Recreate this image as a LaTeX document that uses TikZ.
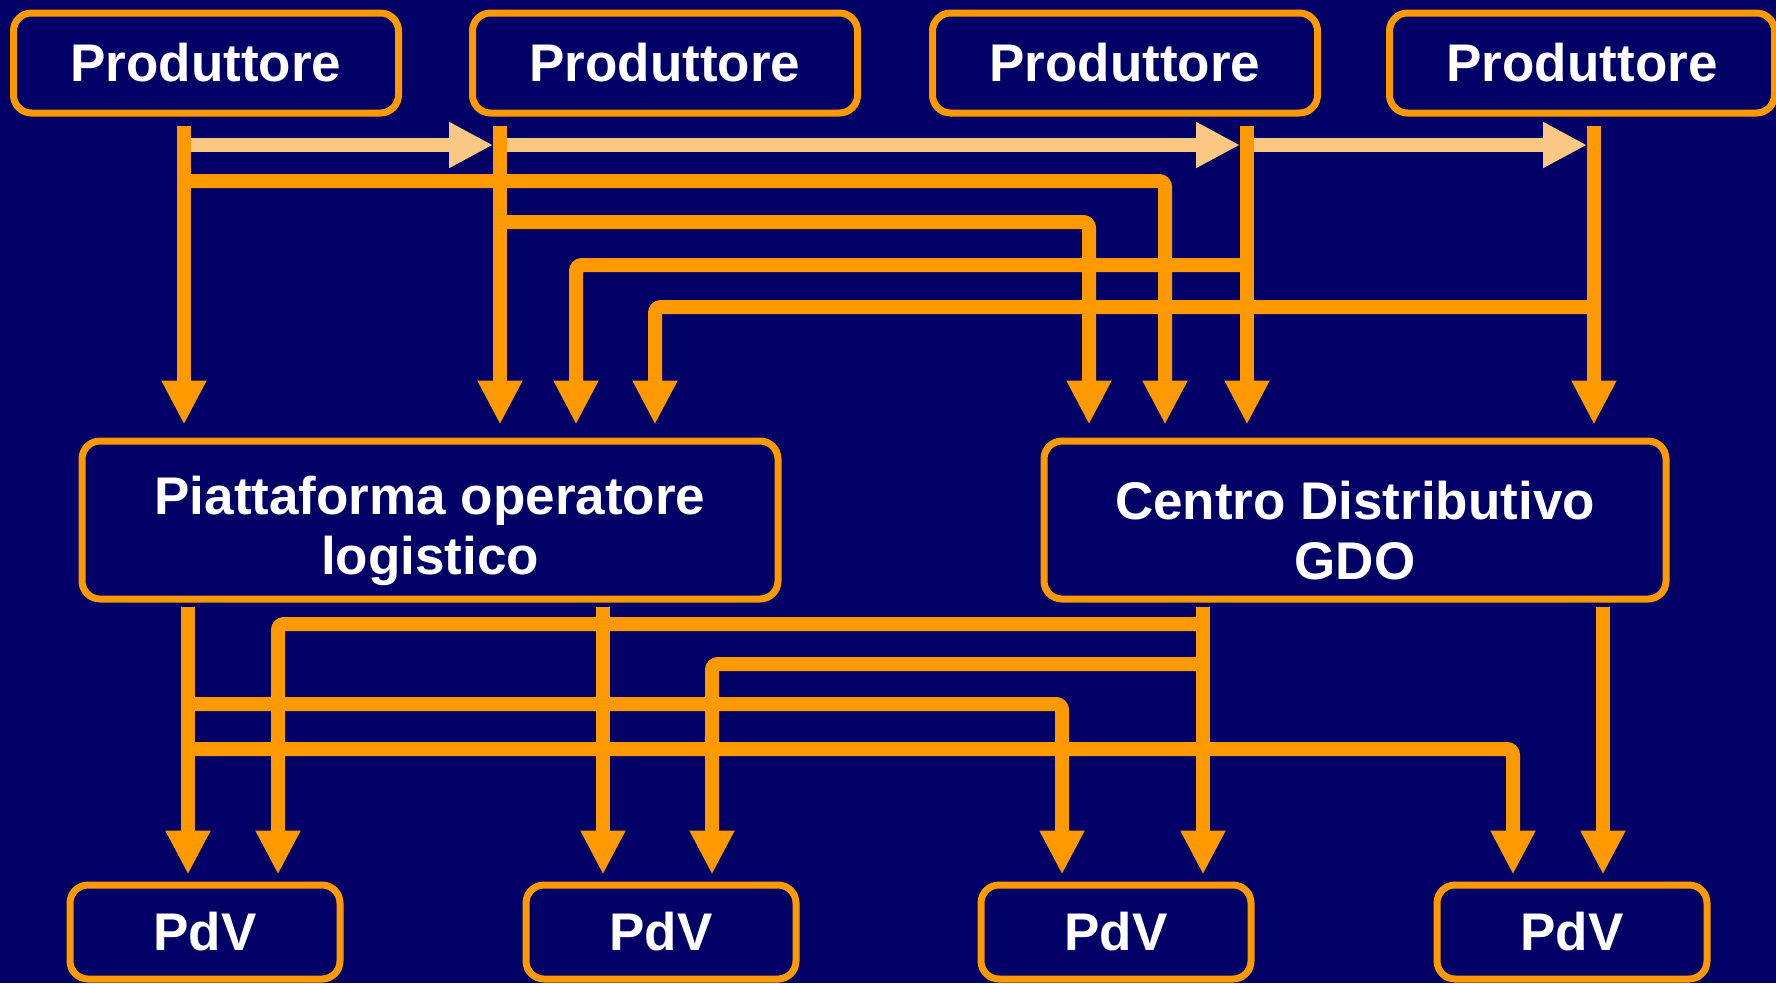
\documentclass[tikz,border=0pt]{standalone}
\usepackage{fontspec}
\setmainfont{Liberation Sans}
\usetikzlibrary{arrows.meta}
\definecolor{navy}{RGB}{0,0,102}
\definecolor{orng}{RGB}{255,153,0}
\definecolor{peach}{RGB}{250,200,130}
\newcommand{\hubstrut}{\rule{0pt}{60pt}}
\tikzset{
	box/.style={draw=orng, line width=7pt, rounded corners=18pt, fill=navy, text=white, inner sep=0pt, align=center, font=\bfseries\fontsize{53}{60}\selectfont},
	prod/.style={box, minimum width=385pt, minimum height=100pt},
	hub/.style={box, minimum height=158pt},
	shop/.style={box, minimum width=270pt, minimum height=94pt},
	flow/.style={draw=orng, line width=14pt, rounded corners=6pt, -{Triangle[width=42pt,length=44pt]}},
	push/.style={draw=peach, line width=14pt, -{Triangle[width=43pt,length=44pt]}, shorten <=7pt, shorten >=7pt}
}
\begin{document}
\begin{tikzpicture}[x=1pt, y=-1pt]
			%%%%% START %%%%%
			
			\fill[navy] (0,0) rectangle (1776,983);
			\useasboundingbox (0,0) rectangle (1776,983);
			
			\node[prod] (p1) at (206,63) {Produttore};
			\node[prod] (p2) at (665,63) {Produttore};
			\node[prod] (p3) at (1125,63) {Produttore};
			\node[prod] (p4) at (1582,63) {Produttore};
			
			\node[hub, minimum width=696pt] (piat) at (430,520) {\hubstrut Piattaforma operatore\\logistico};
			\node[hub, minimum width=622pt] (cdgdo) at (1355,520) {\hubstrut Centro Distributivo\\GDO};
			
			\node[shop] (pdv1) at (205,932) {PdV};
			\node[shop] (pdv2) at (661,932) {PdV};
			\node[shop] (pdv3) at (1116,932) {PdV};
			\node[shop] (pdv4) at (1572,932) {PdV};
			
			\coordinate (s1) at (184,126);
			\coordinate (s2) at (500,126);
			\coordinate (s3) at (1247,126);
			\coordinate (s4) at (1594,126);
			\coordinate (c1) at (1165,181);
			\coordinate (c2) at (1089,222);
			\coordinate (c3) at (576,265);
			\coordinate (c4) at (655,307);
			\coordinate (h) at (0,145);
			
			\coordinate (t1) at (188,607);
			\coordinate (t2) at (603,607);
			\coordinate (t3) at (1203,607);
			\coordinate (t4) at (1603,607);
			\coordinate (d1) at (278,624);
			\coordinate (d2) at (712,664);
			\coordinate (d3) at (1062,704);
			\coordinate (d4) at (1513,749);
			
			\begin{scope}[shorten >=13pt]
			\draw[flow] (s1) -- (s1 |- piat.north);
			\draw[flow] (s2) -- (s2 |- piat.north);
			\draw[flow] (s3) -- (s3 |- cdgdo.north);
			\draw[flow] (s4) -- (s4 |- cdgdo.north);
			\draw[flow] (s1 |- c1) -- (c1) -- (c1 |- cdgdo.north);
			\draw[flow] (s2 |- c2) -- (c2) -- (c2 |- cdgdo.north);
			\draw[flow] (s3 |- c3) -- (c3) -- (c3 |- piat.north);
			\draw[flow] (s4 |- c4) -- (c4) -- (c4 |- piat.north);
			\end{scope}
			
			\draw[push] (s1 |- h) -- (s2 |- h);
			\draw[push] (s2 |- h) -- (s3 |- h);
			\draw[push] (s3 |- h) -- (s4 |- h);
			
			\begin{scope}[shorten >=7pt]
			\draw[flow] (t1) -- (t1 |- pdv1.north);
			\draw[flow] (t2) -- (t2 |- pdv2.north);
			\draw[flow] (t3) -- (t3 |- pdv3.north);
			\draw[flow] (t4) -- (t4 |- pdv4.north);
			\draw[flow] (t3 |- d1) -- (d1) -- (d1 |- pdv1.north);
			\draw[flow] (t3 |- d2) -- (d2) -- (d2 |- pdv2.north);
			\draw[flow] (t1 |- d3) -- (d3) -- (d3 |- pdv3.north);
			\draw[flow] (t1 |- d4) -- (d4) -- (d4 |- pdv4.north);
			\end{scope}
			
			%%%%% END %%%%%
\end{tikzpicture}
\end{document}
